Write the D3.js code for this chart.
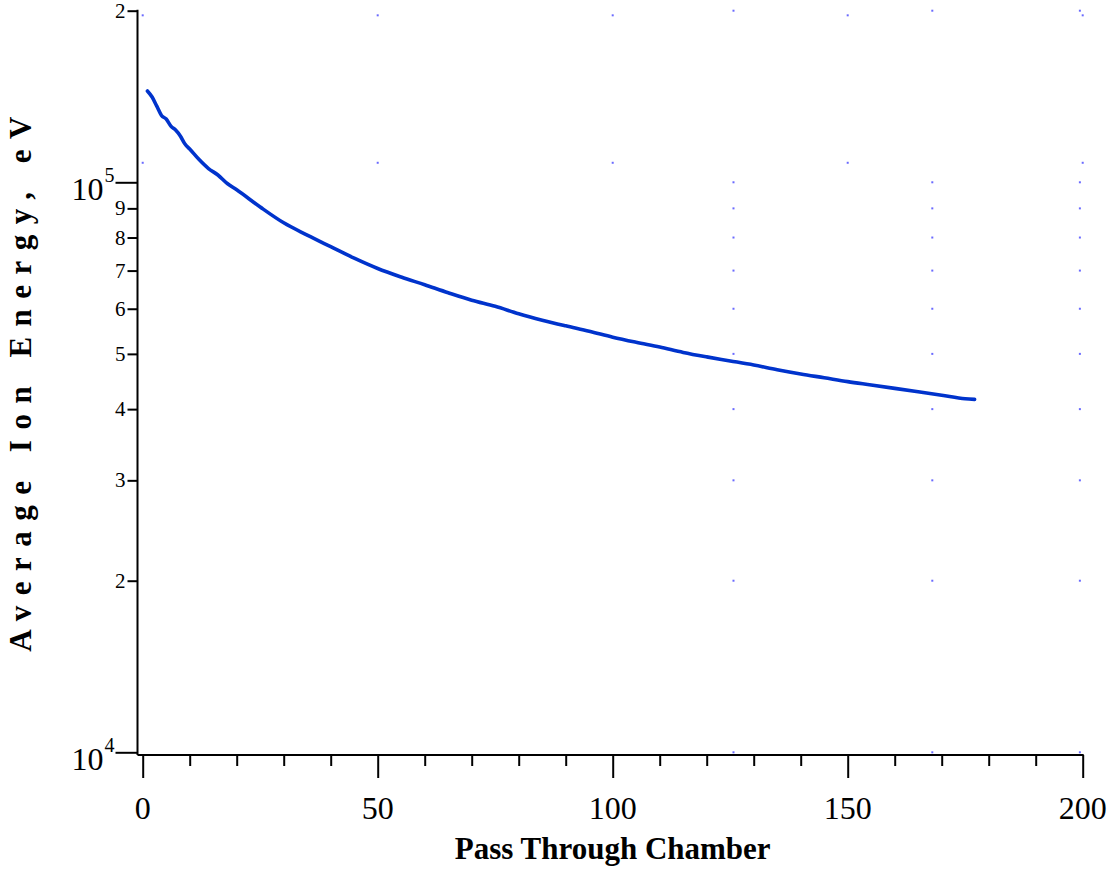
<!DOCTYPE html>
<html>
<head>
<meta charset="utf-8">
<script src="https://cdn.jsdelivr.net/npm/d3@7"></script>
<style>
  html, body { margin: 0; padding: 0; background: #fff; }
  svg { display: block; }
  text { font-family: "Liberation Serif", "Times New Roman", serif; fill: #000; }
</style>
</head>
<body>
<svg id="chart" width="1111" height="869"></svg>
<script>
// ---- Data ----
const passes = [1, 2, 3, 4, 5, 6, 7, 8, 9, 10, 12, 14, 16, 18, 20, 25, 30, 35, 40, 45, 50,
  55, 60, 65, 70, 75, 80, 85, 90, 95, 100, 105, 110, 115, 120, 125, 130, 135, 140,
  145, 150, 155, 160, 165, 170, 175, 177];
const energy = [144600, 141100, 136000, 131000, 129100, 125500, 123500, 120600, 116700, 114400,
  109600, 105700, 103000, 99500, 97000, 90500, 84900, 80800, 77100, 73600, 70600,
  68200, 66100, 64000, 62100, 60600, 58800, 57300, 56000, 54800, 53500, 52400, 51400,
  50300, 49400, 48600, 47800, 46900, 46100, 45400, 44700, 44100, 43500, 42900, 42300,
  41700, 41600];

const xMajorTicks = [0, 50, 100, 150, 200];
const xMinorTicks = [10, 20, 30, 40, 60, 70, 80, 90, 110, 120, 130, 140, 160, 170, 180, 190];
const yDecadeTicks = [1e4, 1e5];
const yDecadeLabels = [["10", "4"], ["10", "5"]];
const yMinorTicks = [2e4, 3e4, 4e4, 5e4, 6e4, 7e4, 8e4, 9e4, 2e5];
const yMinorLabels = ["2", "3", "4", "5", "6", "7", "8", "9", "2"];

// stray grid dots seen in the reference
const gridAX = [0, 50, 100, 150, 200];
const gridAY = [108200, 196300];
const gridBX = [125.7, 168, 199.4];
const gridBY = [2e5, 1e5, 9e4, 8e4, 7e4, 6e4, 5e4, 4e4, 3e4, 2e4, 1e4];

const xTitle = "Pass Through Chamber";
const yTitle = "Average Ion Energy, eV";

// ---- Scales ----
const svg = d3.select("#chart");
const x = d3.scaleLinear().domain([0, 200]).range([142.7, 1082.7]);
const y = d3.scaleLog().domain([1e4, 2e5]).range([752.3, 10.7]);
const axisX0 = 137.5;   // y-axis line position
const axisY0 = 755;     // x-axis line position

// ---- Grid dots ----
const dotColor = "#6a6aff";
const gA = svg.append("g");
gridAX.forEach(gx => gridAY.forEach(gy => {
  gA.append("rect").attr("x", x(gx) - 1).attr("y", y(gy) - 1)
    .attr("width", 2).attr("height", 2).attr("fill", dotColor);
}));
gridBX.forEach(gx => gridBY.forEach(gy => {
  gA.append("rect").attr("x", x(gx) - 1).attr("y", y(gy) - 1)
    .attr("width", 2).attr("height", 2).attr("fill", dotColor);
}));

// ---- Axes ----
// x axis
const gx = svg.append("g").attr("transform", `translate(0,${axisY0})`);
gx.call(d3.axisBottom(x).tickValues(xMajorTicks).tickSize(23).tickFormat(() => ""));
gx.append("g").call(d3.axisBottom(x).tickValues(xMinorTicks).tickSize(11).tickFormat(() => ""));
gx.selectAll(".domain").remove();
gx.selectAll("line").attr("stroke", "#000").attr("stroke-width", 2);
gx.append("line").attr("x1", axisX0).attr("x2", x(200) + 1).attr("y1", 0).attr("y2", 0)
  .attr("stroke", "#000").attr("stroke-width", 2);
gx.selectAll(".xlab").data(xMajorTicks).enter().append("text")
  .attr("class", "xlab")
  .attr("x", d => x(d)).attr("y", 64)
  .attr("text-anchor", "middle").attr("font-size", 32)
  .text(d => d);

// y axis
const gy = svg.append("g").attr("transform", `translate(${axisX0},0)`);
gy.call(d3.axisLeft(y).tickValues(yDecadeTicks).tickSize(22).tickFormat(() => ""));
gy.append("g").call(d3.axisLeft(y).tickValues(yMinorTicks).tickSize(10).tickFormat(() => ""));
gy.selectAll(".domain").remove();
gy.selectAll("line").attr("stroke", "#000").attr("stroke-width", 2);
gy.append("line").attr("x1", 0).attr("x2", 0).attr("y1", y(2e5) - 1).attr("y2", axisY0)
  .attr("stroke", "#000").attr("stroke-width", 2);

// decade labels with superscripts
yDecadeTicks.forEach((v, i) => {
  gy.append("text")
    .attr("x", -34).attr("y", y(v) + 18)
    .attr("text-anchor", "end").attr("font-size", 32)
    .text(yDecadeLabels[i][0]);
  gy.append("text")
    .attr("x", -33).attr("y", y(v) - 0.5)
    .attr("text-anchor", "start").attr("font-size", 20)
    .text(yDecadeLabels[i][1]);
});
// minor labels
yMinorTicks.forEach((v, i) => {
  gy.append("text")
    .attr("x", -12).attr("y", y(v) + 7)
    .attr("text-anchor", "end").attr("font-size", 21)
    .text(yMinorLabels[i]);
});

// ---- Titles ----
svg.append("text")
  .attr("x", (x(0) + x(200)) / 2).attr("y", 859)
  .attr("text-anchor", "middle").attr("font-size", 31).attr("font-weight", "bold")
  .text(xTitle);
svg.append("text")
  .attr("transform", `translate(31,379) rotate(-90)`)
  .attr("text-anchor", "middle").attr("font-size", 31).attr("font-weight", "bold")
  .attr("letter-spacing", 10.5)
  .text(yTitle);

// ---- Curve ----
const data = passes.map((p, i) => ({ p, e: energy[i] }));
const line = d3.line().x(d => x(d.p)).y(d => y(d.e)).curve(d3.curveMonotoneX);
svg.append("path").datum(data)
  .attr("d", line)
  .attr("fill", "none")
  .attr("stroke", "#0033cc")
  .attr("stroke-width", 3.6)
  .attr("stroke-linecap", "round")
  .attr("stroke-linejoin", "round");
</script>
</body>
</html>
